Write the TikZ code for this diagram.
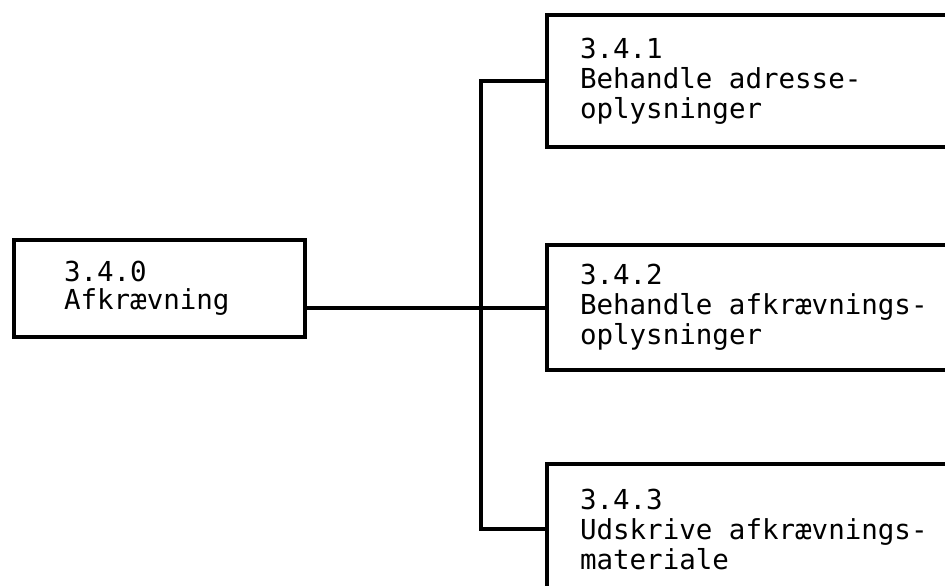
\documentclass[tikz,border=0pt]{standalone}
\usepackage{fontspec}
\newfontfamily\boxfont{DejaVu Sans Mono}
\usetikzlibrary{calc}

\newcommand{\wsp}{\hspace{0.6em}}
\tikzset{
  fnbox/.style={draw, line width=4pt, rectangle, anchor=north west,
    align=left, inner ysep=0pt,
    font=\boxfont\fontsize{27.5}{30}\selectfont},
  link/.style={line width=4pt}
}

\begin{document}
\begin{tikzpicture}[x=1pt, y=-1pt]
  % Page frame
  \clip (0,0) rectangle (945,586);
  % Main function
  \node[fnbox, inner xsep=50pt, text width=191pt, minimum height=97pt,
    font=\boxfont\fontsize{27.5}{28}\selectfont]
    (f0) at (12,238) {3.4.0\\Afkrævning};
  % Sub functions, cut off at the right edge
  \node[fnbox, inner xsep=33pt, text width=369pt, minimum height=132pt]
    (f1) at (545,13) {3.4.1\\Behandle\wsp adresse-\\oplysninger};
  \node[fnbox, inner xsep=33pt, text width=369pt, minimum height=125pt]
    (f2) at (545,243) {3.4.2\\Behandle\wsp afkrævnings-\\oplysninger};
  \node[fnbox, inner xsep=33pt, text width=369pt, minimum height=130pt]
    (f3) at (545,462) {3.4.3\\Udskrive\wsp afkrævnings-\\materiale};
  % Connectors
  \draw[link] (f1.west) -- ++(-64,0) coordinate (bus) |- (f3.west);
  \draw[link] (f2.west) -- (f0.east |- f2.west);
\end{tikzpicture}
\end{document}
